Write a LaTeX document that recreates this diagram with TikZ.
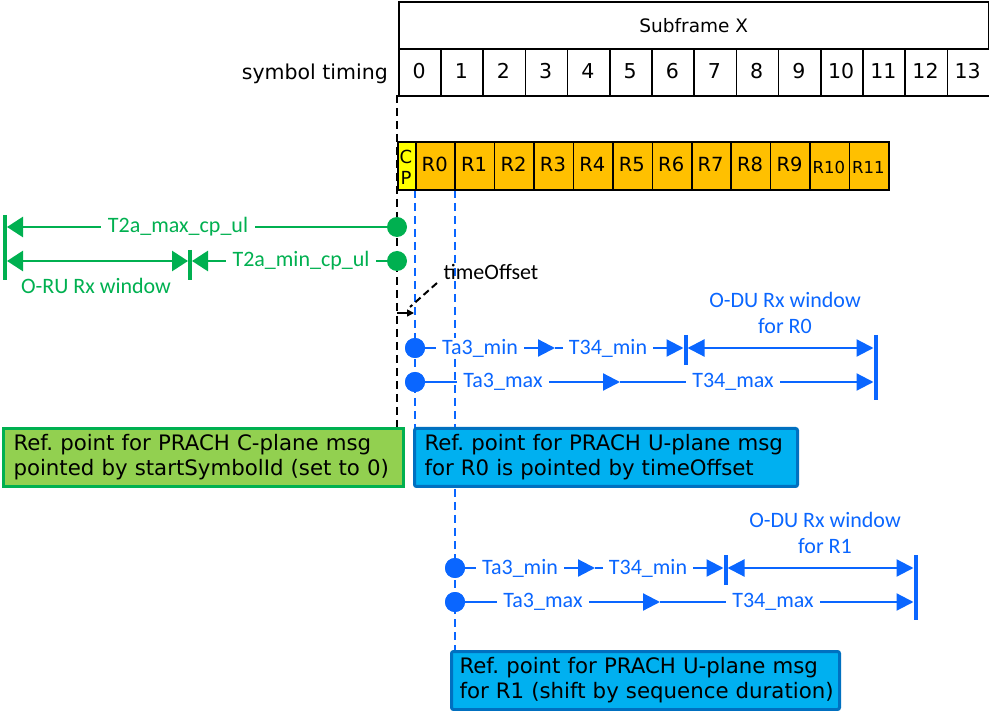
\documentclass[tikz,border=0pt]{standalone}
\usepackage{fontspec}
\setmainfont{DejaVu Sans}
\newfontfamily\lab{Carlito}
\usetikzlibrary{arrows.meta}
\definecolor{gr}{HTML}{00B050}
\definecolor{bl}{HTML}{0A66FF}
\definecolor{org}{HTML}{FFC000}
\definecolor{yel}{HTML}{FFFF00}
\definecolor{lgr}{HTML}{92D050}
\definecolor{cy}{HTML}{00B0F0}
\definecolor{dbl}{HTML}{0070C0}
\frenchspacing
\begin{document}
\begin{tikzpicture}[x=1pt,y=-1pt,
  tbl/.style={draw=black, line width=1.6pt},
  cell/.style={draw=black, line width=1.6pt, fill=org, minimum width=39.4pt, minimum height=48pt, inner sep=0pt, anchor=north west},
  rtxt/.style={inner sep=0pt, anchor=base, font=\fontsize{19.5}{21}\selectfont},
  gline/.style={draw=gr, line width=2.8pt},
  bline/.style={draw=bl, line width=2.2pt},
  gbar/.style={draw=gr, line width=4pt},
  bbar/.style={draw=bl, line width=4pt},
  gtip/.style={-{Triangle[length=16pt,width=20pt]}},
  gtips/.style={{Triangle[length=16pt,width=20pt]}-{Triangle[length=16pt,width=20pt]}},
  btip/.style={-{Triangle[length=17pt,width=17pt]}},
  btips/.style={{Triangle[length=17pt,width=17pt]}-{Triangle[length=17pt,width=17pt]}},
  gdot/.style={circle, fill=gr, minimum size=20pt, inner sep=0pt},
  bdot/.style={circle, fill=bl, minimum size=20pt, inner sep=0pt},
  glab/.style={text=gr, font=\lab\fontsize{22}{26}\selectfont, fill=white, inner xsep=7pt, inner ysep=1pt},
  blab/.style={text=bl, font=\lab\fontsize{22}{26}\selectfont, fill=white, inner xsep=6pt, inner ysep=1pt},
  wlab/.style={text=bl, font=\lab\fontsize{22}{26}\selectfont, align=center},
  bdash/.style={draw=bl, line width=2pt, dash pattern=on 8pt off 5pt},
  kdash/.style={draw=black, line width=2pt, dash pattern=on 8pt off 5pt},
  msgbox/.style={line width=3pt, anchor=north west, align=left, inner xsep=10pt, inner ysep=4pt, minimum height=58pt, font=\fontsize{21.3}{25}\selectfont},
]
\useasboundingbox (0,0) rectangle (989,711);

% ---- subframe table ----
\node[tbl, minimum width=590pt, minimum height=47pt, inner sep=0pt, anchor=north west, font=\fontsize{18.5}{20}\selectfont] (sf) at (398,1) {Subframe X};
\foreach \i in {0,...,13} {
  \node[tbl, minimum width=42.2pt, minimum height=47pt, inner sep=0pt, anchor=north west] (s\i) at ({398+42.2*\i},48) {};
  \node[inner sep=0pt, anchor=base, font=\fontsize{20.5}{22}\selectfont] (sn\i) at ({419.1+42.2*\i},79) {\i};
}
\node[anchor=east, font=\fontsize{20.5}{22}\selectfont, inner sep=0pt] (st) at (388,74) {symbol timing};

% ---- dashed reference lines ----
\coordinate (k0) at (397,95);
\coordinate (k1) at (397,428);
\draw[kdash] (k0) -- (k1);
\coordinate (u0) at (415,190);
\coordinate (u1) at (415,428);
\draw[bdash] (u0) -- (u1);
\coordinate (v0) at (455,190);
\coordinate (v1) at (455,650);
\draw[bdash] (v0) -- (v1);

% ---- CP and R blocks ----
\node[draw=black, line width=1.6pt, fill=yel, minimum width=18pt, minimum height=48pt, inner sep=0pt, anchor=north west] (cp) at (397,141) {};
\node[font=\fontsize{18}{19}\selectfont, inner sep=0pt] (cpc) at (406,157) {C};
\node[font=\fontsize{18}{19}\selectfont, inner sep=0pt] (cpp) at (406,178) {P};
\foreach \i in {0,...,11} {
  \node[cell] (r\i) at ({415+39.42*\i},141) {};
}
\foreach \i in {0,...,9} {
  \node[rtxt] (rt\i) at ({434.7+39.42*\i},172) {R\i};
}
\foreach \i in {10,11} {
  \node[rtxt, font=\fontsize{16.5}{17}\selectfont] (rt\i) at ({434.7+39.42*\i},174) {R\i};
}

% ---- green T2a arrows ----
\node[gdot] (g1) at (397,227) {};
\node[gdot] (g2) at (397,261) {};
\coordinate (ga) at (7,227);
\coordinate (gb) at (7,261);
\coordinate (gc) at (188,261);
\coordinate (gd) at (192,261);
\draw[gbar] (5,215) -- (5,280);
\draw[gbar] (190,250) -- (190,280);
\draw[gline,gtip] (g1) -- (ga);
\draw[gline,gtips] (gb) -- (gc);
\draw[gline,gtip] (g2) -- (gd);
\node[glab] (t2max) at (178,227) {T2a\_max\_cp\_ul};
\node[glab] (t2min) at (301,261) {T2a\_min\_cp\_ul};
\node[text=gr, font=\lab\fontsize{22}{26}\selectfont] (oru) at (96,286) {O-RU Rx window};

% ---- timeOffset ----
\node[font=\lab\fontsize{22}{26}\selectfont] (to) at (491,272) {timeOffset};
\coordinate (toa) at (437,283);
\coordinate (tob) at (410,307);
\draw[draw=black, line width=2pt, dash pattern=on 7pt off 4pt] (toa) -- (tob);
\coordinate (tc) at (397,313);
\coordinate (td) at (414,313);
\draw[draw=black, line width=1.6pt, -{Triangle[length=7pt,width=7pt]}] (tc) -- (td);

% ---- blue Ta3/T34 arrows for R0 and R1 ----
\foreach \p/\dx/\dy/\r in {a/0/0/R0, b/40/220/R1} {
\begin{scope}[shift={(\dx,\dy)}]
  \node[bdot] (\p d1) at (415,348) {};
  \node[bdot] (\p d2) at (415,382) {};
  \coordinate (\p m1) at (555,348);
  \coordinate (\p e1) at (683.5,348);
  \coordinate (\p f1) at (687.5,348);
  \coordinate (\p g1) at (873.5,348);
  \coordinate (\p m2) at (620,382);
  \coordinate (\p e2) at (873.5,382);
  \draw[bbar] (685.5,335) -- (685.5,365);
  \draw[bbar] (875.5,335) -- (875.5,400);
  \draw[bline,btip] (\p d1) -- (\p m1);
  \draw[bline,btip] (\p m1) -- (\p e1);
  \draw[bline,btips] (\p f1) -- (\p g1);
  \draw[bline,btip] (\p d2) -- (\p m2);
  \draw[bline,btip] (\p m2) -- (\p e2);
  \node[blab] (\p l1) at (480,348) {Ta3\_min};
  \node[blab] (\p l2) at (608,348) {T34\_min};
  \node[blab] (\p l3) at (503,382) {Ta3\_max};
  \node[blab] (\p l4) at (733,382) {T34\_max};
  \node[wlab] (\p w) at (785,313) {O-DU Rx window\\for \r};
  \node[bdot] at (\p d1) {};
  \node[bdot] at (\p d2) {};
\end{scope}
}

% ---- message boxes ----
\node[msgbox, draw=gr, fill=lgr, text width=380pt] (cbox) at (2,427) {\mbox{Ref. point for PRACH C-plane msg}\\\mbox{pointed by startSymbolId (set to 0)}};
\node[msgbox, draw=dbl, fill=cy, rounded corners=2pt, text width=363pt] (ubox0) at (413,427) {\mbox{Ref. point for PRACH U-plane msg}\\\mbox{for R0 is pointed by timeOffset}};
\node[msgbox, draw=dbl, fill=cy, rounded corners=2pt, text width=372pt, inner xsep=8pt] (ubox1) at (450,650) {\mbox{Ref. point for PRACH U-plane msg}\\\mbox{for R1 (shift by sequence duration)}};
\end{tikzpicture}
\end{document}
